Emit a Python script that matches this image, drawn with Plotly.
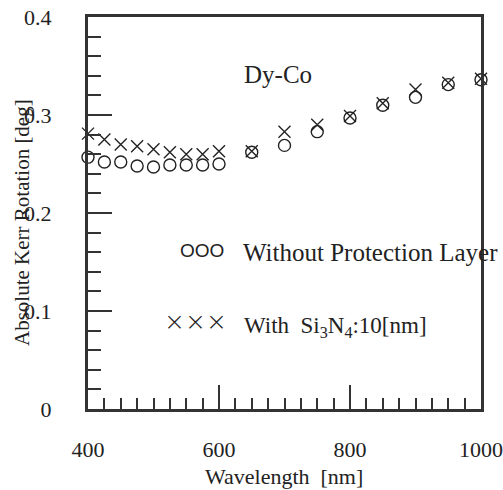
import plotly.graph_objects as go

wavelength = [400, 425, 450, 475, 500, 525, 550, 575, 600, 650, 700, 750, 800, 850, 900, 950, 1000]
without_layer = [0.257, 0.252, 0.252, 0.248, 0.247, 0.249, 0.249, 0.249, 0.250, 0.262, 0.269, 0.283, 0.297, 0.310, 0.318, 0.331, 0.336]
with_si3n4 = [0.281, 0.275, 0.270, 0.268, 0.265, 0.262, 0.260, 0.260, 0.263, 0.263, 0.283, 0.290, 0.299, 0.312, 0.326, 0.333, 0.337]

x_ticks = [400, 600, 800, 1000]
y_ticks = [0, 0.1, 0.2, 0.3, 0.4]
y_tick_labels = ["0", "0.1", "0.2", "0.3", "0.4"]

SERIF = "Liberation Serif"
INK = "#222222"
L, R, T, B = 88, 481, 17, 409
W, H = 503, 490

def px(xp):
    return (xp - L) / (R - L)

def py(yp):
    return (B - yp) / (B - T)

fig = go.Figure()
fig.add_trace(go.Scatter(
    x=wavelength, y=without_layer, mode="markers",
    marker=dict(symbol="circle-open", size=12, color=INK, line=dict(width=1.4, color=INK)),
    cliponaxis=False, showlegend=False))
fig.add_trace(go.Scatter(
    x=wavelength, y=with_si3n4, mode="markers",
    marker=dict(symbol="x-thin-open", size=12, color=INK, line=dict(width=1.4, color=INK)),
    cliponaxis=False, showlegend=False))

axis_common = dict(showgrid=False, zeroline=False, showline=True, linewidth=3,
                   linecolor="#333333", mirror=True, ticks="inside", automargin=False,
                   tickwidth=2, tickcolor="#333333", ticklen=24,
                   tickfont=dict(family=SERIF, size=22, color=INK))

fig.update_xaxes(range=[400, 1000], tickvals=x_ticks, ticktext=[str(v) for v in x_ticks],
                 ticklabelstandoff=19,
                 minor=dict(dtick=25, tick0=400, ticks="inside", ticklen=11, tickwidth=1.5,
                            tickcolor="#333333"),
                 **axis_common)
fig.update_yaxes(range=[0, 0.4], tickvals=y_ticks, ticktext=y_tick_labels,
                 ticklabelstandoff=29,
                 minor=dict(dtick=0.02, tick0=0, ticks="inside", ticklen=13, tickwidth=1.5,
                            tickcolor="#333333"),
                 **axis_common)

ann = [
    dict(text="Wavelength  [nm]", x=px(284), y=py(476), font=dict(size=22)),
    dict(text="Absolute Kerr Rotation [deg]", x=px(22), y=py(223), textangle=-90, font=dict(size=21)),
    dict(text="Dy-Co", x=px(242), y=py(74), xanchor="left", font=dict(size=25)),
    dict(text="OOO", x=px(178), y=py(250), xanchor="left",
         font=dict(family="Liberation Sans", size=19)),
    dict(text="Without Protection Layer", x=px(241), y=py(252), xanchor="left", font=dict(size=25)),
    dict(text="×××", x=px(162), y=py(321), xanchor="left",
         font=dict(family="DejaVu Sans", size=25, weight=200)),
    dict(text="With  Si<sub>3</sub>N<sub>4</sub>:10[nm]", x=px(242), y=py(327), xanchor="left",
         font=dict(size=23)),
]
for a in ann:
    f = dict(family=SERIF, color=INK)
    f.update(a.pop("font"))
    a.setdefault("xanchor", "center")
    fig.add_annotation(xref="paper", yref="paper", yanchor="middle", showarrow=False, font=f, **a)

fig.update_layout(template="none", width=W, height=H,
                  margin=dict(l=L, r=W - R, t=T, b=H - B, autoexpand=False),
                  paper_bgcolor="white", plot_bgcolor="white")

fig.write_html("out.html", config={"displayModeBar": False},
               post_script="document.body.style.margin='0';document.body.style.overflow='hidden';")
